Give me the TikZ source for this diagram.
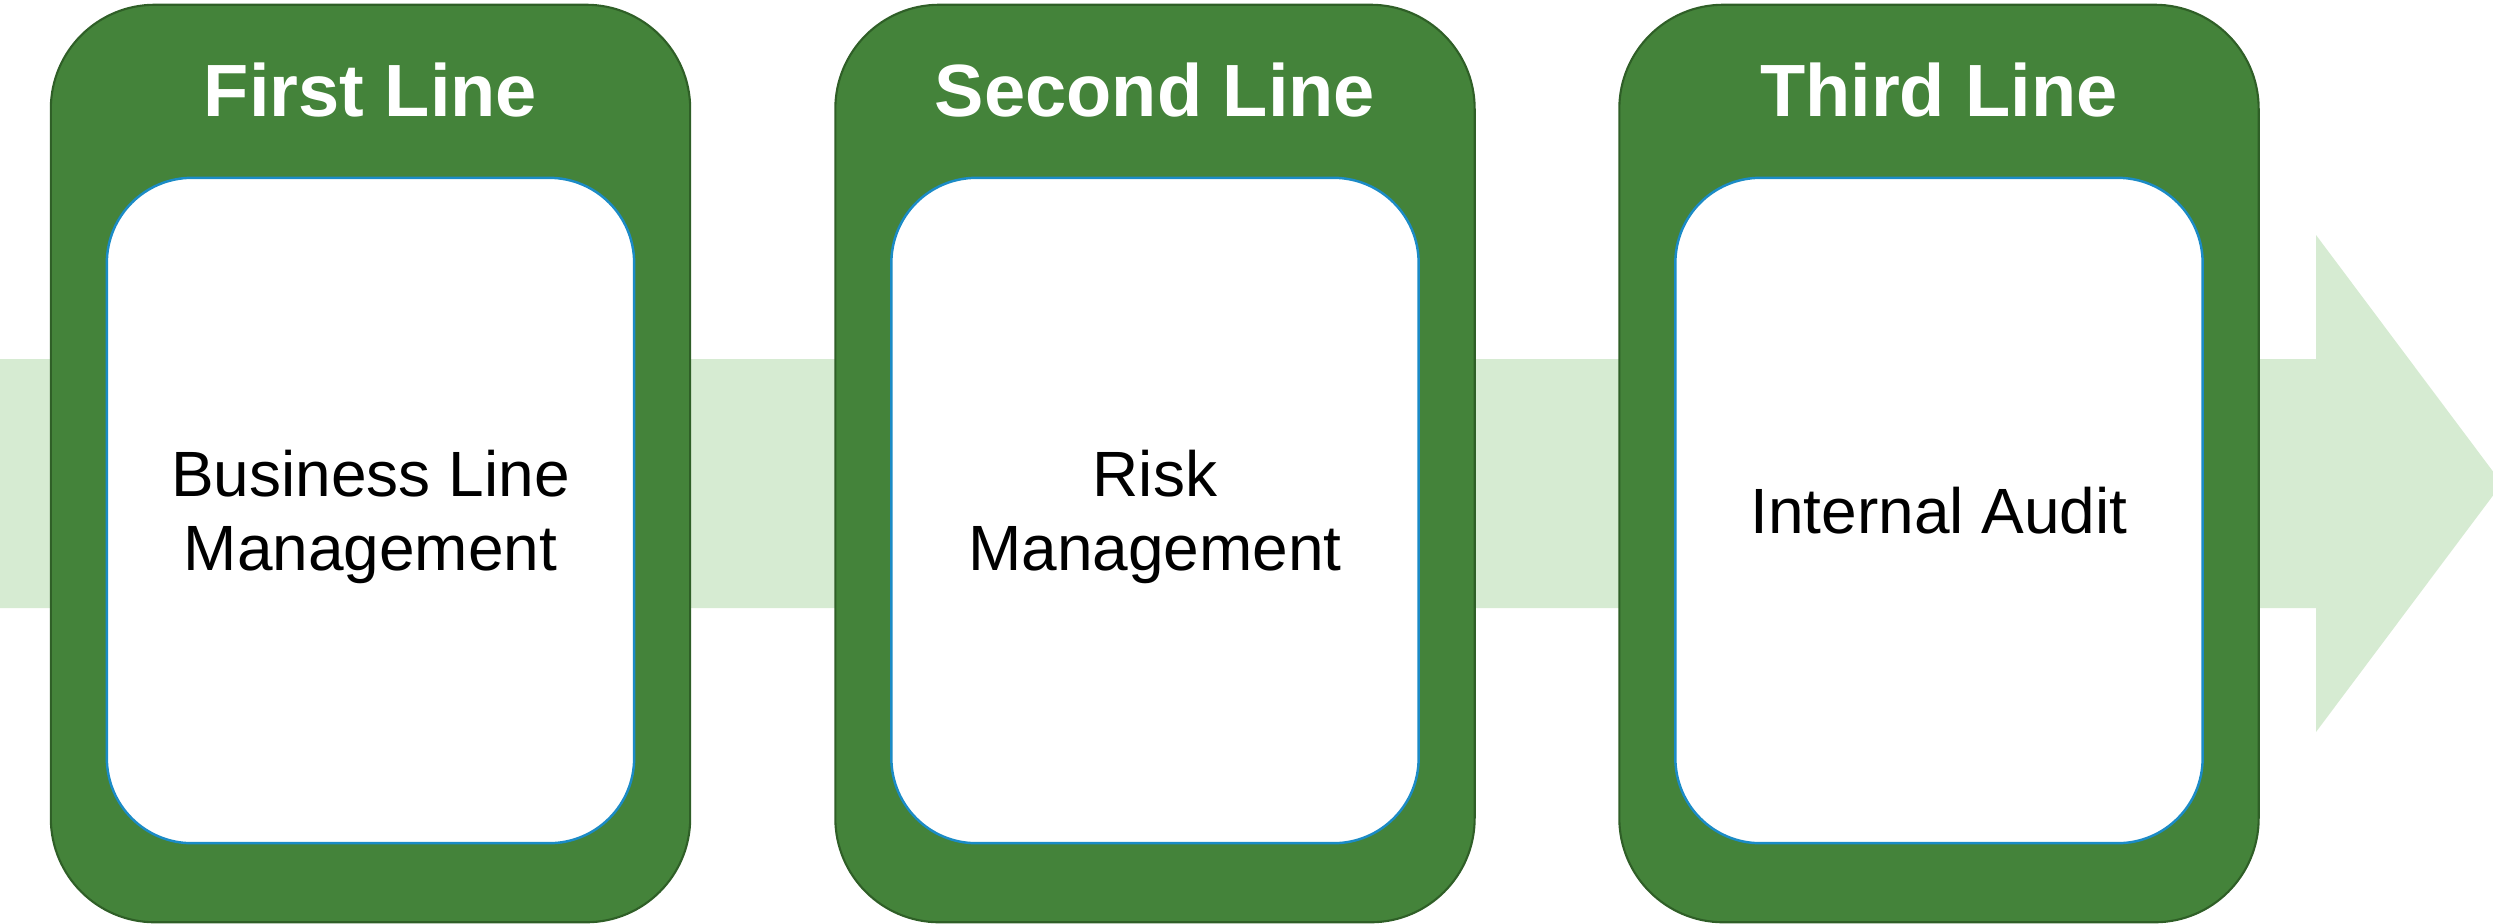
\documentclass[tikz,border=0pt]{standalone}
\usepackage{fontspec}
\setmainfont{Liberation Sans}
\definecolor{boxgreen}{HTML}{44833A}
\definecolor{boxedge}{HTML}{2F5F27}
\definecolor{bandgreen}{HTML}{D6EBD2}
\definecolor{innerblue}{HTML}{1B8BC6}
\newcommand{\nodepth}[1]{\raisebox{0pt}[\height][0pt]{#1}}
\begin{document}
\begin{tikzpicture}[x=0.01cm,y=-0.01cm,
  outerbox/.style={draw=boxedge, line width=0.6pt, fill=boxgreen, rounded corners=1.04cm,
    minimum width=6.39cm, minimum height=9.17cm, inner sep=0pt},
  innerbox/.style={draw=innerblue, line width=0.7pt, fill=white, rounded corners=0.85cm,
    minimum width=5.27cm, minimum height=6.65cm, inner sep=0pt, align=center,
    font=\fontsize{18.2pt}{20.9pt}\selectfont},
  heading/.style={text=white, font=\fontsize{21.05pt}{25pt}\selectfont\bfseries,
    inner sep=0pt, anchor=base}]
\clip (0,0) rectangle (2493,923);
% background arrow band
\fill[bandgreen] (0,359) -- (2316,359) -- (2316,235) -- (2502,483.5) -- (2316,732) -- (2316,608) -- (0,608) -- cycle;
% boxes
\node[outerbox] (g1) at (370.5,463.5) {};
\node[outerbox] (g2) at (1155,463.5) {};
\node[outerbox] (g3) at (1939,463.5) {};
\node[innerbox] (i1) at (370.5,510.5) {Business Line\\\nodepth{Management}};
\node[innerbox] (i2) at (1155,510.5) {Risk\\\nodepth{Management}};
\node[innerbox] (i3) at (1939,510.5) {Internal Audit};
\node[heading] (h1) at ([yshift=-1.13cm]g1.north) {First Line};
\node[heading] (h2) at ([yshift=-1.13cm]g2.north) {Second Line};
\node[heading] (h3) at ([yshift=-1.13cm]g3.north) {Third Line};
\end{tikzpicture}
\end{document}
